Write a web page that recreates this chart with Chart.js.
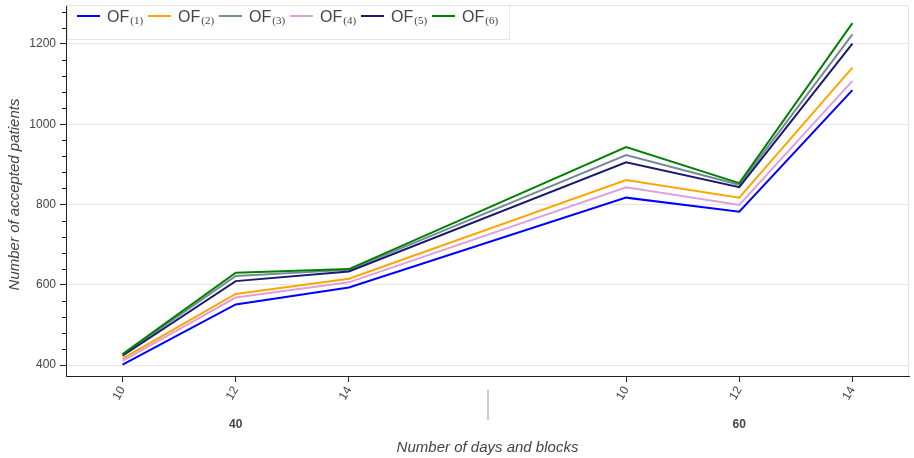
<!DOCTYPE html>
<html>
<head>
<meta charset="utf-8">
<script src="https://cdn.jsdelivr.net/npm/chart.js@4.4.1/dist/chart.umd.min.js"></script>
<style>
  html, body { margin: 0; padding: 0; background: #ffffff; }
  canvas { display: block; }
</style>
</head>
<body>
<canvas id="chart" width="914" height="458"></canvas>
<script>
// Nested categories: number of days (group) and number of blocks (sub-category)
const groups = ['40', '60'];
const blocks = ['10', '12', '14'];

// Accepted patients per objective function, in category order
const of1 = [401, 551, 593, 817, 782, 1085];
const of2 = [416, 577, 615, 861, 817, 1141];
const of3 = [425, 622, 637, 923, 849, 1224];
const of4 = [410, 568, 606, 843, 799, 1108];
const of5 = [423, 609, 633, 905, 843, 1201];
const of6 = [427, 630, 639, 943, 853, 1252];

const seriesNames = ['OF', 'OF', 'OF', 'OF', 'OF', 'OF'];
const seriesSubs = ['(1)', '(2)', '(3)', '(4)', '(5)', '(6)'];
const seriesValues = [of1, of2, of3, of4, of5, of6];
const seriesColors = ['#0000ff', '#ffa500', '#778899', '#dda0dd', '#191970', '#008000'];

const yTickValues = [400, 600, 800, 1000, 1200];

// Factor-range layout: unit width per sub-category, extra padding between groups
const groupPadding = 1.45;
const xPositions = [];
const tickLabels = [];
const groupCenters = [];
const separators = [];
let cursor = 0;
groups.forEach((g, gi) => {
  if (gi > 0) {
    separators.push(cursor + groupPadding / 2);
    cursor += groupPadding;
  }
  const start = cursor;
  blocks.forEach(b => {
    xPositions.push(cursor + 0.5);
    tickLabels.push(b);
    cursor += 1;
  });
  groupCenters.push((start + cursor) / 2);
});
const xEnd = cursor;

const datasets = seriesValues.map((vals, i) => ({
  label: seriesNames[i] + seriesSubs[i],
  data: vals.map((v, k) => ({ x: xPositions[k], y: v })),
  borderColor: seriesColors[i],
  backgroundColor: seriesColors[i],
  borderWidth: 2,
  pointRadius: 0,
  tension: 0,
  fill: false,
  order: seriesValues.length - 1 - i
}));

const TEXT = '#444444';
const AXIS = '#222222';
const FRAME = '#e5e5e5';
const SANS = '"Liberation Sans", Arial, sans-serif';

const decorations = {
  id: 'decorations',
  beforeDatasetsDraw(chart) {
    const { ctx, chartArea: a } = chart;
    ctx.save();
    ctx.strokeStyle = FRAME;
    ctx.lineWidth = 1;
    ctx.beginPath();
    ctx.moveTo(a.left, a.top + 0.5);
    ctx.lineTo(a.right - 0.5, a.top + 0.5);
    ctx.lineTo(a.right - 0.5, a.bottom);
    ctx.stroke();
    ctx.restore();
  },
  afterDraw(chart) {
    const { ctx, chartArea: a, scales } = chart;
    const xs = scales.x, ys = scales.y;
    ctx.save();

    // minor ticks on the value axis
    ctx.strokeStyle = AXIS;
    ctx.lineWidth = 1;
    ctx.beginPath();
    for (let v = 360; v <= ys.max; v += 40) {
      if (v < ys.min || v % 200 === 0) continue;
      const y = Math.round(ys.getPixelForValue(v)) + 0.5;
      ctx.moveTo(a.left - 4, y);
      ctx.lineTo(a.left, y);
    }
    ctx.stroke();

    // group separators
    ctx.strokeStyle = '#cccccc';
    ctx.lineWidth = 2;
    separators.forEach(s => {
      const x = Math.round(xs.getPixelForValue(s));
      ctx.beginPath();
      ctx.moveTo(x, a.bottom + 14);
      ctx.lineTo(x, a.bottom + 44);
      ctx.stroke();
    });

    // group labels
    ctx.fillStyle = TEXT;
    ctx.font = 'bold 12px ' + SANS;
    ctx.textAlign = 'center';
    ctx.textBaseline = 'middle';
    groups.forEach((g, i) => {
      ctx.fillText(g, xs.getPixelForValue(groupCenters[i]), a.bottom + 49);
    });

    // axis titles
    ctx.font = 'italic 15px ' + SANS;
    ctx.fillText('Number of days and blocks', (a.left + a.right) / 2, 448);
    ctx.save();
    ctx.translate(15, (a.top + a.bottom) / 2 + 4);
    ctx.rotate(-Math.PI / 2);
    ctx.fillText('Number of accepted patients', 0, 0);
    ctx.restore();

    // legend
    const lx = a.left + 1.5, ly = a.top + 0.5, lw = 442, lh = 34;
    ctx.fillStyle = 'rgba(255,255,255,0.95)';
    ctx.fillRect(lx, ly, lw, lh);
    ctx.strokeStyle = FRAME;
    ctx.lineWidth = 1;
    ctx.strokeRect(lx, ly, lw, lh);
    const stride = 71;
    const rowY = a.top + 11;
    ctx.textAlign = 'left';
    ctx.textBaseline = 'alphabetic';
    seriesNames.forEach((name, i) => {
      const x0 = lx + 9.5 + i * stride;
      ctx.strokeStyle = seriesColors[i];
      ctx.lineWidth = 2;
      ctx.beginPath();
      ctx.moveTo(x0, rowY);
      ctx.lineTo(x0 + 23, rowY);
      ctx.stroke();
      ctx.fillStyle = TEXT;
      ctx.font = '16px ' + SANS;
      const tx = x0 + 30;
      ctx.fillText(name, tx, rowY + 6);
      const w = ctx.measureText(name).width;
      ctx.font = '11px "Liberation Serif", "Times New Roman", serif';
      ctx.fillText(seriesSubs[i], tx + w + 1, rowY + 8);
    });

    ctx.restore();
  }
};

new Chart(document.getElementById('chart'), {
  type: 'line',
  data: { datasets },
  plugins: [decorations],
  options: {
    responsive: false,
    devicePixelRatio: 1,
    animation: false,
    layout: { padding: { top: 5, right: 5, left: 0, bottom: 0 } },
    plugins: { legend: { display: false }, tooltip: { enabled: false } },
    scales: {
      x: {
        type: 'linear',
        min: 0,
        max: xEnd,
        afterBuildTicks: s => { s.ticks = xPositions.map(v => ({ value: v })); },
        afterFit: s => { s.height = 82; s.paddingLeft = 0; s.paddingRight = 0; },
        ticks: {
          callback: (v, i) => tickLabels[i],
          minRotation: 60,
          maxRotation: 60,
          autoSkip: false,
          padding: 2,
          color: TEXT,
          font: { family: SANS, size: 12 }
        },
        grid: { drawOnChartArea: false, drawTicks: true, tickLength: 6, tickColor: AXIS },
        border: { color: AXIS, width: 1 }
      },
      y: {
        type: 'linear',
        min: 372.6,
        max: 1297,
        afterBuildTicks: s => { s.ticks = yTickValues.map(v => ({ value: v })); },
        afterFit: s => { s.width = 66; s.paddingTop = 0; s.paddingBottom = 0; },
        ticks: {
          callback: v => String(v),
          padding: 4,
          color: TEXT,
          font: { family: SANS, size: 12 }
        },
        grid: { color: FRAME, lineWidth: 1, drawTicks: true, tickLength: 6, tickColor: AXIS },
        border: { color: AXIS, width: 1 }
      }
    }
  }
});
</script>
</body>
</html>
